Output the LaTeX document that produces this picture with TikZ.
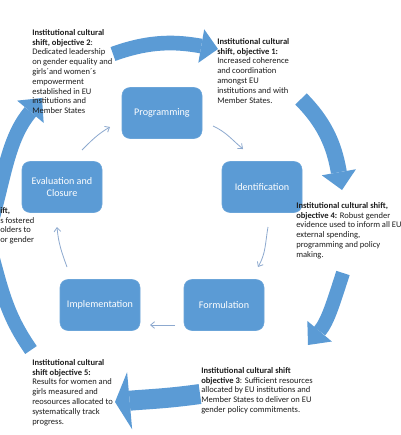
\documentclass[tikz,border=0pt]{standalone}
\usepackage{fontspec}
\setmainfont{Carlito}
\usetikzlibrary{arrows.meta}
\definecolor{boxblue}{HTML}{5B9BD5}
\definecolor{thinblue}{HTML}{8DA9CF}
\definecolor{txt}{HTML}{1E1E1E}
\begin{document}
\begin{tikzpicture}[x=0.75pt,y=-0.75pt,
  stage/.style={rounded corners=6pt, fill=boxblue, draw=boxblue!90!white, minimum width=60pt, minimum height=38.25pt, text=white, font=\fontsize{7.6}{8.3}\selectfont, align=center, inner sep=0pt},
  bigarrow/.style={draw=boxblue},
  thinarrow/.style={draw=thinblue, line width=0.6pt, -{Straight Barb[length=3pt,width=5pt]}},
  obj/.style={anchor=north west, inner sep=0pt, align=left, text=txt, font=\fontsize{6.4}{7.35}\selectfont}]
\useasboundingbox (0,0) rectangle (400,435);
\clip (0,0) rectangle (400,435);
\fill[white] (0,0) rectangle (400,435);

% stage boxes
\node[stage] (prog) at (162,113) {Programming};
\node[stage] (ident) at (262,187) {Identification};
\node[stage] (eval) at (62,187) {Evaluation and\\Closure};
\node[stage] (impl) at (100,305) {Implementation};
\node[stage] (form) at (224,305) {Formulation};

% thin arrows
\coordinate (a1s) at (213,126); \coordinate (a1e) at (243,149);
\coordinate (a2s) at (268,227); \coordinate (a2e) at (258,267);
\coordinate (a3s) at (175,325); \coordinate (a3e) at (150,325);
\coordinate (a4s) at (67,267);  \coordinate (a4e) at (57,227);
\coordinate (a5s) at (82,150);  \coordinate (a5e) at (110,127);
\draw[thinarrow] (a1s) .. controls (226.6,132.3) and (231.5,139.4) .. (a1e);
\draw[thinarrow] (a2s) .. controls (265.2,242.8) and (266,253.1) .. (a2e);
\draw[thinarrow] (a3s) -- (a3e);
\draw[thinarrow] (a4s) .. controls (61.5,252) and (58.4,243) .. (a4e);
\draw[thinarrow] (a5s) .. controls (91.9,140.1) and (97.9,134) .. (a5e);

% big block arrows
\coordinate (b1s) at (113,54);  \coordinate (b1e) at (218,49);
\coordinate (b2s) at (301,99);  \coordinate (b2e) at (342,190);
\coordinate (b3s) at (343,273); \coordinate (b3e) at (308,345);
\coordinate (b4s) at (200,394); \coordinate (b4e) at (115,402);
\coordinate (b5s) at (31,350);  \coordinate (b5e) at (-8,255);
\coordinate (b6s) at (-8,220);  \coordinate (b6e) at (42,98);
\draw[bigarrow, line width=11pt, -{Triangle[length=12.75pt,width=25.5pt,line width=0pt]}] (b1s) .. controls (151.5,40) and (177.6,41.9) .. (b1e);
\draw[bigarrow, line width=12pt, -{Triangle[length=13.5pt,width=26pt,line width=0pt]}] (b2s) .. controls (328.6,126.6) and (335.2,151.6) .. (b2e);
\draw[bigarrow, line width=10.5pt, -{Triangle[length=13.5pt,width=24pt,line width=0pt]}] (b3s) .. controls (333.4,302.5) and (327.9,321.3) .. (b3e);
\draw[bigarrow, line width=15pt, -{Triangle[length=11pt,width=43pt,line width=0pt]}] (b4s) .. controls (167.3,398.6) and (147.9,399.1) .. (b4e);
\draw[bigarrow, line width=10.5pt] (b5s) .. controls (8,317) and (2.4,293.6) .. (b5e);
\draw[bigarrow, line width=11pt, -{Triangle[length=13.5pt,width=26pt,line width=0pt]}] (b6s) .. controls (5.2,170.7) and (9.2,137) .. (b6e);

% objective texts
\node[obj] (o2) at (32,29) {\textbf{Institutional cultural}\\\textbf{shift, objective 2}:\\Dedicated leadership\\on gender equality and\\girls´and women´s\\empowerment\\established in EU\\institutions and\\Member States};
\node[obj] (o1) at (217,38) {\textbf{Institutional cultural}\\\textbf{shift, objective 1:}\\Increased coherence\\and coordination\\amongst EU\\institutions and with\\Member States.};
\node[obj] (o4) at (296,202) {\textbf{Institutional cultural shift,}\\\textbf{objective 4:} Robust gender\\evidence used to inform all EU\\external spending,\\programming and policy\\making.};
\node[obj] (o3) at (201,367) {\textbf{Institutional cultural shift}\\\textbf{objective 3}: Sufficient resources\\allocated by EU institutions and\\Member States to deliver on EU\\gender policy commitments.};
\node[obj] (o5) at (32,359) {\textbf{Institutional cultural}\\\textbf{shift objective 5:}\\Results for women and\\girls measured and\\reosources allocated to\\systematically track\\progress.};
\node[obj] (o6) at (0,207) {\textbf{ift,}\\s fostered\\olders to\\or gender};
\end{tikzpicture}
\end{document}
